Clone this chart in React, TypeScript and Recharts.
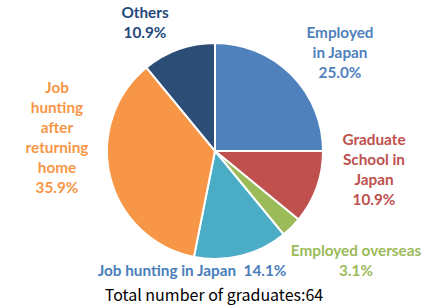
import React from 'react';
import { PieChart, Pie, Cell } from 'recharts';

const categories = [
  'Employed in Japan',
  'Graduate School in Japan',
  'Employed overseas',
  'Job hunting in Japan',
  'Job hunting after returning home',
  'Others',
];
const graduates = [16, 7, 2, 9, 23, 7];
const percentLabels = ['25.0%', '10.9%', '3.1%', '14.1%', '35.9%', '10.9%'];
const TOTAL_LABEL = 'Total number of graduates:64';

const sliceColors = ['#4F81BD', '#C0504D', '#9BBB59', '#4BACC6', '#F79646', '#2C4D75'];
const labelColors = ['#4F81BD', '#C0504D', '#9BBB59', '#4A7EBB', '#F79646', '#1F497D'];

// label text lines + anchor per slice (x center, first baseline y)
const labelLayout = [
  { x: 340, y: 38, lines: ['Employed', 'in Japan', '{p}'] },
  { x: 374, y: 145, lines: ['Graduate', 'School in', 'Japan', '{p}'] },
  { x: 356, y: 256, lines: ['Employed overseas', '{p}'] },
  { x: 192, y: 276, lines: ['Job hunting in Japan  {p}'] },
  { x: 57, y: 93, lines: ['Job', 'hunting', 'after', 'returning', 'home', '{p}'] },
  { x: 145, y: 18, lines: ['Others', '{p}'] },
];

const data = categories.map((name, i) => ({ name, value: graduates[i], pct: percentLabels[i] }));

const FONT = 'Lato, "Open Sans", sans-serif';

const renderLabel = (props: any) => {
  const i = props.index;
  const l = labelLayout[i];
  return (
    <text
      key={`lbl-${i}`}
      x={l.x}
      y={l.y}
      textAnchor="middle"
      fill={labelColors[i]}
      fontFamily={FONT}
      fontSize={15.3}
      fontWeight={700}
    >
      {l.lines.map((t, j) => (
        <tspan key={j} x={l.x} dy={j === 0 ? 0 : 20} style={{ whiteSpace: 'pre' }}>
          {t.replace('{p}', data[i].pct)}
        </tspan>
      ))}
    </text>
  );
};

export default function App() {
  return (
    <div style={{ position: 'fixed', left: 0, top: 0, width: 430, height: 306, background: '#fff' }}>
      <PieChart width={430} height={306} margin={{ top: 0, right: 0, bottom: 0, left: 0 }}>
        <Pie
          data={data}
          dataKey="value"
          nameKey="name"
          cx={215}
          cy={151}
          outerRadius={108}
          startAngle={90}
          endAngle={-270}
          stroke="#fff"
          strokeWidth={2}
          label={renderLabel}
          labelLine={false}
          isAnimationActive={false}
        >
          {data.map((d, i) => (
            <Cell key={`cell-${i}`} fill={sliceColors[i]} />
          ))}
        </Pie>
        <text
          x={214}
          y={301}
          textAnchor="middle"
          fill="#000"
          fontFamily='"Noto Sans CJK JP", sans-serif'
          fontSize={16}
        >
          {TOTAL_LABEL}
        </text>
      </PieChart>
    </div>
  );
}
